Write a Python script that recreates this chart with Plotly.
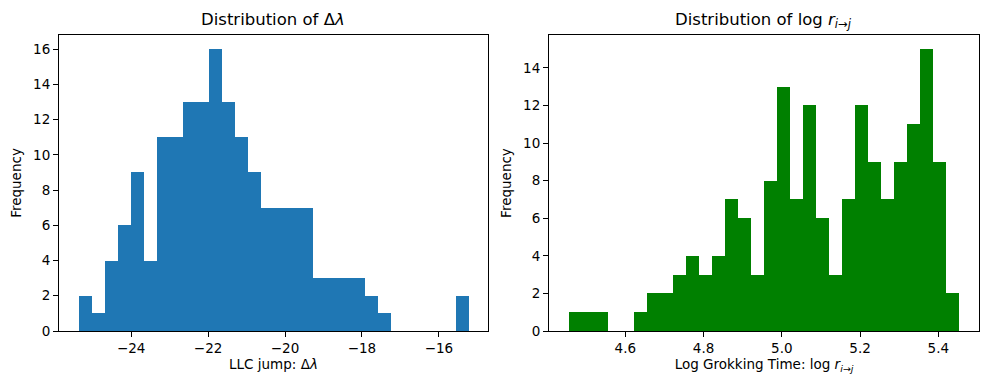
import plotly.graph_objects as go
from plotly.subplots import make_subplots

# left histogram: LLC jump, 30 bins
llc_start = -25.37
llc_width = 0.338
llc_counts = [2, 1, 4, 6, 9, 4, 11, 11, 13, 13, 16, 13, 11, 9, 7,
              7, 7, 7, 3, 3, 3, 3, 2, 1, 0, 0, 0, 0, 0, 2]

# right histogram: log grokking time, 30 bins
grok_start = 4.455
grok_width = 0.0333
grok_counts = [1, 1, 1, 0, 0, 1, 2, 2, 3, 4, 3, 4, 7, 6, 3,
               8, 13, 7, 12, 6, 3, 7, 12, 9, 7, 9, 11, 15, 9, 2]

llc_ticks = [-24, -22, -20, -18, -16]
grok_ticks = [4.6, 4.8, 5.0, 5.2, 5.4]

FONT = "DejaVu Sans"


def centers(start, width, n):
    return [start + width * (i + 0.5) for i in range(n)]


fig = make_subplots(rows=1, cols=2, horizontal_spacing=0.066)

fig.add_trace(go.Bar(x=centers(llc_start, llc_width, len(llc_counts)), y=llc_counts,
                     width=llc_width, marker=dict(color="#1f77b4", line=dict(width=0)),
                     showlegend=False), row=1, col=1)
fig.add_trace(go.Bar(x=centers(grok_start, grok_width, len(grok_counts)), y=grok_counts,
                     width=grok_width, marker=dict(color="#008000", line=dict(width=0)),
                     showlegend=False), row=1, col=2)

axis_style = dict(showline=True, linecolor="black", linewidth=1, mirror=True,
                  ticks="outside", ticklen=5, tickcolor="black", showgrid=False,
                  zeroline=False, tickfont=dict(family=FONT, size=13.5, color="black"))

llc_lo = llc_start
llc_hi = llc_start + llc_width * len(llc_counts)
pad = (llc_hi - llc_lo) * 0.05
fig.update_xaxes(range=[llc_lo - pad, llc_hi + pad], tickvals=llc_ticks,
                 domain=[0, 0.4663], **axis_style, row=1, col=1)
grok_lo = grok_start
grok_hi = grok_start + grok_width * len(grok_counts)
pad = (grok_hi - grok_lo) * 0.05
fig.update_xaxes(range=[grok_lo - pad, grok_hi + pad], tickvals=grok_ticks,
                 tickformat=".1f", domain=[0.5326, 1], **axis_style, row=1, col=2)

fig.update_yaxes(range=[0, max(llc_counts) * 1.05], dtick=2, **axis_style, row=1, col=1)
fig.update_yaxes(range=[0, max(grok_counts) * 1.05], dtick=2, **axis_style, row=1, col=2)

lab_font = dict(family=FONT, size=13.5, color="black")
fig.update_xaxes(title=dict(text="LLC jump: Δ<i>λ</i>", font=lab_font, standoff=4), row=1, col=1)
fig.update_xaxes(title=dict(text="Log Grokking Time: log <i>r</i><sub><i>i</i>→<i>j</i></sub>",
                            font=lab_font, standoff=2), row=1, col=2)
fig.update_yaxes(title=dict(text="Frequency", font=lab_font, standoff=8), row=1, col=1)
fig.update_yaxes(title=dict(text="Frequency", font=lab_font, standoff=8), row=1, col=2)

title_font = dict(family=FONT, size=16.5, color="black")
fig.add_annotation(text="Distribution of Δ<i>λ</i>", x=0.4663 / 2, y=1, xref="paper", yref="paper",
                   xanchor="center", yanchor="bottom", yshift=4, showarrow=False, font=title_font)
fig.add_annotation(text="Distribution of log <i>r</i><sub><i>i</i>→<i>j</i></sub>",
                   x=(0.5326 + 1) / 2, y=1, xref="paper", yref="paper",
                   xanchor="center", yanchor="bottom", yshift=2, showarrow=False, font=title_font)

# page body adds an 8px offset, so the margins are shifted to compensate
fig.update_layout(width=990, height=390, bargap=0,
                  margin=dict(l=51, r=19, t=27, b=67, autoexpand=False),
                  plot_bgcolor="white", paper_bgcolor="white",
                  font=dict(family=FONT, color="black"))

fig.write_html("out.html")
